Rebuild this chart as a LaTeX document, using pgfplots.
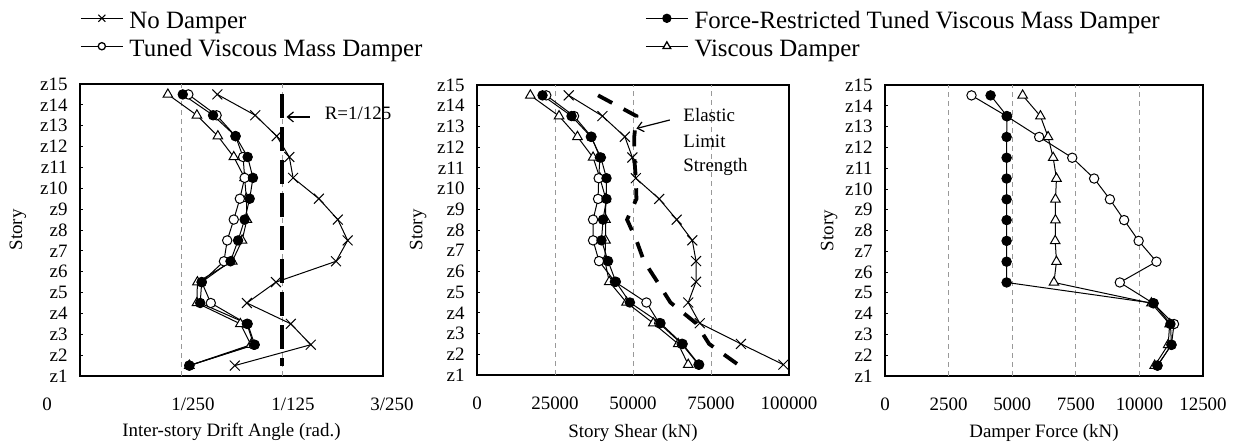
\documentclass[border=0pt]{standalone}
\usepackage{fontspec}
\setmainfont{Liberation Serif}
\usepackage{pgfplots}
\usepackage{pgfplotstable}
\pgfplotsset{compat=1.18}
\usetikzlibrary{arrows.meta}

\newcommand\tickfont{\fontsize{19}{22}\selectfont}
\newcommand\legfont{\fontsize{25}{28}\selectfont}

% inter-story drift angle (rad)
\pgfplotstableread{
y     nd       fr       tv       vd
14.5  0.00544  0.00407  0.00429  0.00348
13.5  0.00694  0.00527  0.00541  0.00463
12.5  0.00779  0.00616  0.00616  0.00546
11.5  0.00829  0.00664  0.00646  0.00609
10.5  0.00844  0.00685  0.00652  0.00652
9.5   0.00946  0.00672  0.00633  0.00659
8.5   0.01021  0.00652  0.00609  0.00661
7.5   0.01060  0.00626  0.00583  0.00642
6.5   0.01014  0.00596  0.00570  0.00603
5.5   0.00776  0.00482  0.00482  0.00465
4.5   0.00661  0.00476  0.00518  0.00463
3.5   0.00835  0.00664  0.00661  0.00635
2.5   0.00914  0.00692  0.00688  0.00677
1.5   0.00613  0.00433  0.00433  0.00433
}\drift

% story shear (kN), el = elastic limit strength
\pgfplotstableread{
y     nd     fr     tv     vd     el
14.5  29400  21000  22200  17100  38800
13.5  40200  30300  31100  26300  51100
12.5  47400  36500  36700  32200  50400
11.5  49800  39700  39400  37200  50400
10.5  50900  41500  39000  39400  50900
9.5   58400  41500  38800  41300  51100
8.5   64000  40400  37200  41200  48100
7.5   69000  39900  37200  41200  51100
6.5   70200  42000  39100  41000  53500
5.5   70200  44500  44200  42400  57800
4.5   67700  49000  54300  47900  62000
3.5   71400  58800  58400  56500  70200
2.5   84600  65900  65600  64500  74400
1.5   98200  71200  71000  67700  83700
}\shear

% damper force (kN)
\pgfplotstableread{
y     fr     tv     vd
14.5  4150   3400   5410
13.5  4800   4780   6110
12.5  4780   6060   6410
11.5  4780   7360   6610
10.5  4780   8220   6740
9.5   4780   8840   6700
8.5   4780   9400   6700
7.5   4780   9970   6690
6.5   4780   10670  6740
5.5   4780   9230   6640
4.5   10560  10540  10470
3.5   11220  11360  11190
2.5   11260  11260  11130
1.5   10710  10710  10600
}\force

\pgfplotsset{
  storypanel/.style={
    scale only axis, clip=false,
    ymin=1, ymax=15, ytick={1,...,15},
    yticklabels={z1,z2,z3,z4,z5,z6,z7,z8,z9,z10,z11,z12,z13,z14,z15},
    ylabel={Story},
    tick align=inside, ytick pos=left, major tick length=3bp,
    xtick style={draw=none},
    ytick style={black, line width=0.8bp},
    axis line style={black, line width=1.5bp},
    tick label style={font=\tickfont},
    label style={font=\tickfont},
    xticklabel style={anchor=center, yshift=-28bp},
    yticklabel style={xshift=-9bp},
    scaled x ticks=false,
    major grid style={black!40, line width=0.8bp, dash pattern=on 5bp off 4bp},
    extra x tick labels={},
    extra x tick style={grid=major, xtick style={draw=none}},
    legend image code/.code={
      \draw[mark repeat=2, mark phase=2, #1] plot coordinates {(0bp,0bp) (21bp,0bp) (42bp,0bp)};
    },
    legend style={draw=none, fill=none, inner sep=0pt, anchor=north west,
      font=\legfont, row sep=4bp,
      nodes={inner sep=0pt, text height=22bp, text depth=2bp},
      /tikz/column 1/.style={column sep=6bp}},
    legend cell align=left,
  },
  nd/.style={black, line width=1bp, mark=x, mark size=7bp, mark options={line width=1bp}},
  fr/.style={black, line width=1bp, mark=*, mark size=4.7bp, mark options={fill=black}},
  tv/.style={black, line width=1bp, mark=*, mark size=4.7bp, mark options={fill=white}},
  vd/.style={black, line width=1bp, mark=triangle*, mark size=5.5bp, mark options={fill=white}},
}

\begin{document}
\begin{tikzpicture}
\useasboundingbox (0,0) rectangle (1238bp,445bp);

% ---- drift angle ----
\begin{axis}[storypanel,
  at={(80bp,69bp)}, anchor=south west, width=303bp, height=292bp,
  xmin=0, xmax=0.012, xtick={0,0.004,0.008,0.012},
  xticklabels={{0\hspace*{66bp}},{\hspace*{24bp}1/250},{\hspace*{22bp}1/125},{\hspace*{18bp}3/250}},
  extra x ticks={0.004,0.008},
  xlabel={Inter-story Drift Angle (rad.)},
  xlabel style={at={(axis description cs:0.5,-0.192)}, anchor=center},
  ylabel style={at={(axis description cs:-0.205,0.5)}, anchor=center},
  legend style={at={(axis description cs:0,1.267)}},
]
\addlegendimage{nd, mark size=5bp, line width=1.3bp}
\addlegendentry{No Damper}
\addlegendimage{tv, mark size=3.6bp, line width=1.3bp}
\addlegendentry{Tuned Viscous Mass Damper}
\addplot[black, line width=4bp, dash pattern=on 24bp off 9bp, forget plot]
  coordinates {(0.008,14.5) (0.008,1.5)};
\addplot[nd, forget plot] table[x=nd, y=y] {\drift};
\addplot[vd, forget plot] table[x=vd, y=y] {\drift};
\addplot[tv, forget plot] table[x=tv, y=y] {\drift};
\addplot[fr, forget plot] table[x=fr, y=y] {\drift};
\draw[-{Straight Barb[length=6bp, width=10bp]}, line width=1.2bp]
  (axis cs:0.0091,13.42) -- (axis cs:0.00818,13.42);
\node[anchor=west, inner sep=0pt, font=\tickfont] at (axis cs:0.00969,13.6) {R=1/125};
\end{axis}

% ---- story shear ----
\begin{axis}[storypanel,
  at={(477bp,70bp)}, anchor=south west, width=312bp, height=290bp,
  xmin=0, xmax=100000, xtick={0,25000,50000,75000,100000},
  xticklabels={0,25000,50000,75000,100000},
  extra x ticks={25000,50000,75000},
  xlabel={Story Shear (kN)},
  xlabel style={at={(axis description cs:0.5,-0.2)}, anchor=center},
  ylabel style={at={(axis description cs:-0.189,0.5)}, anchor=center},
  legend style={at={(axis description cs:0.5385,1.272)}},
]
\addlegendimage{fr, mark size=4bp, line width=1.3bp}
\addlegendentry{Force-Restricted Tuned Viscous Mass Damper}
\addlegendimage{vd, mark size=4.5bp, line width=1.3bp}
\addlegendentry{Viscous Damper}
\addplot[black, line width=3.8bp, dash pattern=on 16bp off 13bp, forget plot]
  table[x=el, y=y] {\shear};
\addplot[nd, forget plot] table[x=nd, y=y] {\shear};
\addplot[vd, forget plot] table[x=vd, y=y] {\shear};
\addplot[tv, forget plot] table[x=tv, y=y] {\shear};
\addplot[fr, forget plot] table[x=fr, y=y] {\shear};
\draw[-{Straight Barb[length=6bp, width=10bp]}, line width=1.2bp]
  (axis cs:61800,13.31) -- (axis cs:51100,12.9);
\node[anchor=west, inner sep=0pt, font=\tickfont] at (axis cs:66100,13.55) {Elastic};
\node[anchor=west, inner sep=0pt, font=\tickfont] at (axis cs:66100,12.3) {Limit};
\node[anchor=west, inner sep=0pt, font=\tickfont] at (axis cs:66100,11.06) {Strength};
\end{axis}

% ---- damper force ----
\begin{axis}[storypanel,
  at={(885bp,69bp)}, anchor=south west, width=318bp, height=291bp,
  xmin=0, xmax=12500, xtick={0,2500,5000,7500,10000,12500},
  xticklabels={0,2500,5000,7500,10000,12500},
  extra x ticks={2500,5000,7500,10000},
  xlabel={Damper Force (kN)},
  xlabel style={at={(axis description cs:0.5,-0.196)}, anchor=center},
  ylabel style={at={(axis description cs:-0.176,0.5)}, anchor=center},
]
\addplot[vd] table[x=vd, y=y] {\force};
\addplot[tv] table[x=tv, y=y] {\force};
\addplot[fr] table[x=fr, y=y] {\force};
\end{axis}
\end{tikzpicture}
\end{document}
